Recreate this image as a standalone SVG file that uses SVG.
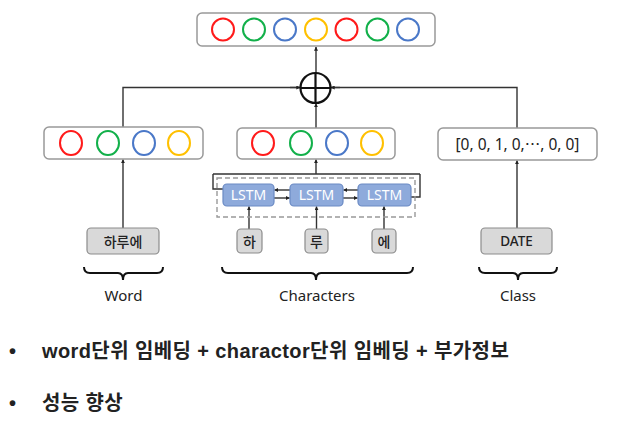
<svg xmlns="http://www.w3.org/2000/svg" width="624" height="429" viewBox="0 0 624 429">
<defs>
<marker id="ah" viewBox="0 0 6 6" refX="5.5" refY="3" markerWidth="4" markerHeight="4" orient="auto" markerUnits="userSpaceOnUse">
<path d="M0,0 L6,3 L0,6 z" fill="#222"/>
</marker>
<style>
.box{fill:#fff;stroke:#999;stroke-width:1.5}
.gbox{fill:#d9d9d9;stroke:#8c8c8c;stroke-width:1.2}
.lstm{fill:#8eaadb;stroke:#6a8ac4;stroke-width:1.2}
.c{fill:none;stroke-width:2}
.r{stroke:#ff1a1a}.g{stroke:#12b04a}.b{stroke:#4a78c8}.y{stroke:#ffc000}
.ln{fill:none;stroke:#333;stroke-width:1.4}
.ar{fill:none;stroke:#333;stroke-width:1.4;marker-end:url(#ah)}
.br{fill:none;stroke:#111;stroke-width:2}
.t{font-family:"Noto Sans","Noto Sans CJK KR",sans-serif;fill:#222;text-anchor:middle}
.tb{font-family:"Noto Sans","Noto Sans CJK KR",sans-serif;fill:#222;text-anchor:middle;font-weight:500}
.lt{font-family:"Noto Sans",sans-serif;fill:#fff;font-size:14px;text-anchor:middle}
.bul{font-family:"Liberation Sans","Noto Sans CJK KR",sans-serif;font-weight:bold;font-size:20px;fill:#222;letter-spacing:0.4px}
</style>
</defs>

<g id="connectors">
<path class="ar" d="M316,73 V47"/>
<path class="ln" d="M123,127 V87.5 H300"/>
<path class="ar" d="M290,87.5 H300"/>
<path class="ln" d="M517,128 V87.5 H331"/>
<path class="ar" d="M340,87.5 H331"/>
<path class="ar" d="M316,128 V103.5"/>
<path class="ar" d="M123,228 V159.5"/>
<path class="ar" d="M517,228 V160.5"/>
<path class="ar" d="M316,174 V159.5"/>
<path class="ln" d="M213,174 H420"/>
<path class="ln" d="M213,174 V189 H223"/>
<path class="ln" d="M420,174 V197 H411"/>
<path class="ar" d="M290,190 H274.5"/>
<path class="ar" d="M274,198 H289.5"/>
<path class="ar" d="M358,190 H343.5"/>
<path class="ar" d="M343,198 H357.5"/>
<path class="ar" d="M249,229 V206.5"/>
<path class="ar" d="M316.5,229 V206.5"/>
<path class="ar" d="M384,229 V206.5"/>
</g>

<g id="output">
<rect class="box" x="197" y="13" width="238" height="33" rx="5"/>
<circle class="c r" cx="223" cy="29.5" r="11"/>
<circle class="c g" cx="254" cy="29.5" r="11"/>
<circle class="c b" cx="285" cy="29.5" r="11"/>
<circle class="c y" cx="316" cy="29.5" r="11"/>
<circle class="c r" cx="346.5" cy="29.5" r="11"/>
<circle class="c g" cx="377.5" cy="29.5" r="11"/>
<circle class="c b" cx="408" cy="29.5" r="11"/>
</g>

<g id="oplus">
<circle cx="315.5" cy="88" r="15" fill="#fff" stroke="#111" stroke-width="2.2"/>
<path d="M300.5,88 H330.5 M315.5,73 V103" stroke="#111" stroke-width="2.2"/>
</g>

<g id="word-emb">
<rect class="box" x="44" y="127" width="159" height="32" rx="5"/>
<ellipse class="c r" cx="71" cy="143" rx="11" ry="12"/>
<ellipse class="c g" cx="108" cy="143" rx="11" ry="12"/>
<ellipse class="c b" cx="144" cy="143" rx="11" ry="12"/>
<ellipse class="c y" cx="179" cy="143" rx="11" ry="12"/>
</g>

<g id="char-emb">
<rect class="box" x="237" y="128" width="158" height="31" rx="5"/>
<ellipse class="c r" cx="263" cy="143" rx="11" ry="12"/>
<ellipse class="c g" cx="301" cy="143" rx="11" ry="12"/>
<ellipse class="c b" cx="337" cy="143" rx="11" ry="12"/>
<ellipse class="c y" cx="372" cy="143" rx="11" ry="12"/>
</g>

<g id="class-emb">
<rect class="box" x="438" y="128" width="159" height="32" rx="5"/>
<text class="t" x="517.5" y="150" font-size="15.5">[0, 0, 1, 0,⋯, 0, 0]</text>
</g>

<g id="lstm-group">
<rect x="217" y="178" width="198" height="39" fill="none" stroke="#999" stroke-width="1.4" stroke-dasharray="5,3"/>
</g>
<g id="lstm1">
<rect class="lstm" x="223" y="184" width="51" height="22" rx="4"/>
<text class="lt" x="248.5" y="200">LSTM</text>
</g>
<g id="lstm2">
<rect class="lstm" x="290" y="184" width="53" height="22" rx="4"/>
<text class="lt" x="316.5" y="200">LSTM</text>
</g>
<g id="lstm3">
<rect class="lstm" x="358" y="184" width="53" height="22" rx="4"/>
<text class="lt" x="384.5" y="200">LSTM</text>
</g>

<g id="word-in">
<rect class="gbox" x="87" y="228" width="72" height="26" rx="4"/>
<text class="tb" x="123" y="246.5" font-size="14">하루에</text>
</g>
<g id="char-ha">
<rect class="gbox" x="237" y="229" width="25" height="24" rx="4"/>
<text class="tb" x="249.5" y="246.5" font-size="14">하</text>
</g>
<g id="char-ru">
<rect class="gbox" x="305" y="229" width="23" height="24" rx="4"/>
<text class="tb" x="316.5" y="246.5" font-size="14">루</text>
</g>
<g id="char-e">
<rect class="gbox" x="372" y="229" width="24" height="24" rx="4"/>
<text class="tb" x="384" y="246.5" font-size="14">에</text>
</g>
<g id="class-in">
<rect class="gbox" x="481" y="228" width="71" height="26" rx="4"/>
<text class="tb" x="516.5" y="246" font-size="13.5">DATE</text>
</g>

<g id="braces">
<path class="br" d="M84,267 q0,6 6,6 H118 q5,0 5,7 q0,-7 5,-7 H157 q6,0 6,-6"/>
<path class="br" d="M222,267 q0,6 6,6 H311 q5,0 5,7 q0,-7 5,-7 H407 q6,0 6,-6"/>
<path class="br" d="M479,267 q0,6 6,6 H513 q5,0 5,7 q0,-7 5,-7 H551 q6,0 6,-6"/>
</g>
<g id="labels">
<text class="t" x="123.5" y="301" font-size="15">Word</text>
<text class="t" x="317" y="301" font-size="15">Characters</text>
<text class="t" x="518" y="301" font-size="15">Class</text>
</g>

<g id="bullets">
<text class="bul" x="9" y="358">•</text>
<text class="bul" x="42" y="358">word단위 임베딩 + charactor단위 임베딩 + 부가정보</text>
<text class="bul" x="9" y="410">•</text>
<text class="bul" x="42" y="410">성능 향상</text>
</g>
</svg>
